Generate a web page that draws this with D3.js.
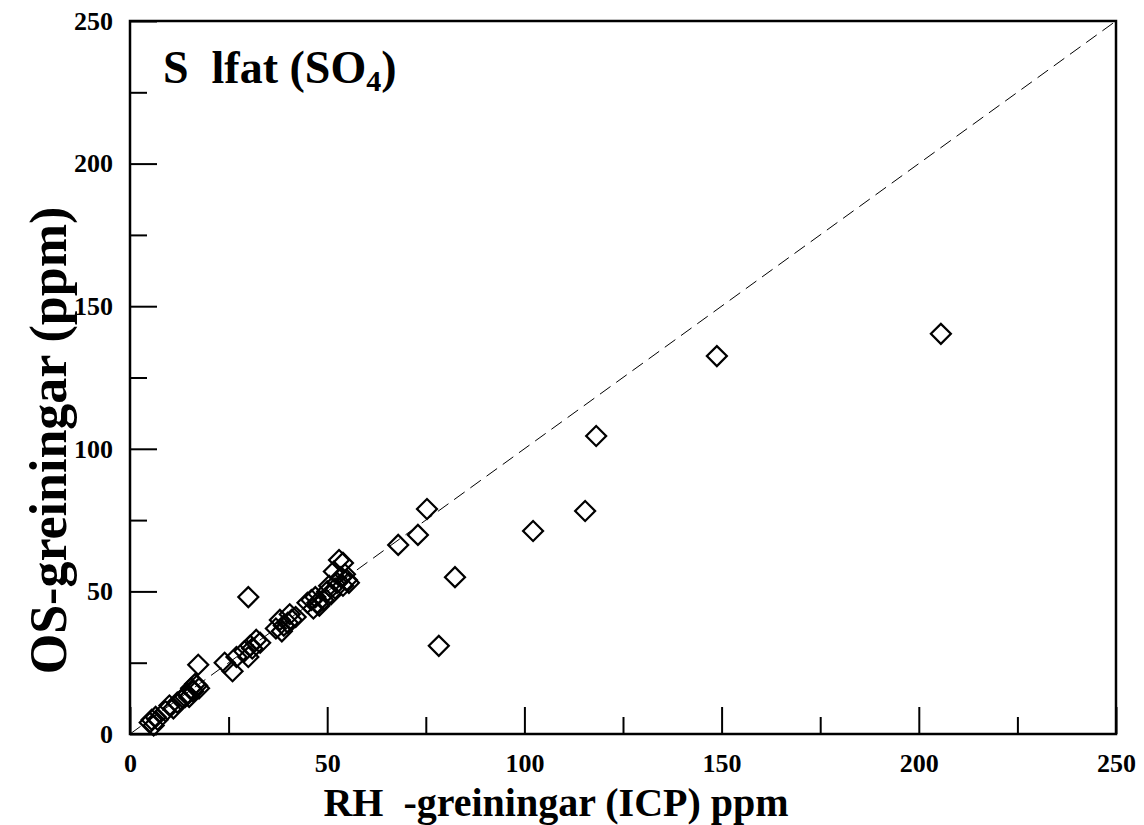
<!DOCTYPE html>
<html>
<head>
<meta charset="utf-8">
<script src="https://cdn.jsdelivr.net/npm/d3@7"></script>
<style>
  body { margin: 0; background: #fff; }
  text { font-family: "Liberation Serif", "Times New Roman", serif; font-weight: bold; }
</style>
</head>
<body>
<script>
// RH (ICP) values vs OS values, ppm
const rhValues = [
  5, 6, 6.5, 7, 5.5, 9, 10, 11, 12,
  13, 14, 14.5, 15, 15.5, 16, 17, 17.5, 16.5, 17.3,
  24, 26, 27, 29, 30, 30.5, 31, 32, 33, 30,
  37, 38, 38.5, 39, 40, 40.5, 41, 42,
  45, 46, 46.5, 47, 47.5, 48, 49,
  50, 50.5, 51, 52, 52.5, 53, 54, 51.7, 53.5, 54, 55, 55.5, 54.5,
  68, 73, 75.3, 78.3, 82.4, 102.2, 115.4, 118.2, 148.8, 205.6
];
const osValues = [
  4, 3, 6, 5, 5, 8, 10, 9, 11,
  12, 13, 14, 13, 16, 15, 17, 16, 17.5, 24.3,
  25, 22, 27, 29, 27, 31, 30, 33, 32, 48,
  37, 40, 36, 38, 39, 42, 40, 41,
  46, 47, 44, 48, 46, 45, 47,
  50, 52, 49, 51, 53, 61, 60, 57, 55, 52, 54, 53, 56,
  66.3, 69.8, 78.9, 30.9, 55, 71.2, 78.2, 104.5, 132.5, 140.3
];
const majorTicks = [0, 50, 100, 150, 200, 250];
const minorTicks = [25, 75, 125, 175, 225];
const refLine = [[0, 0], [250, 250]];

const svgWidth = 1144;
const svgHeight = 825;
const margin = {left: 130, top: 21, right: 28, bottom: 91};
const width = svgWidth - margin.left - margin.right;
const height = svgHeight - margin.top - margin.bottom;

const svg = d3.select('body').append('svg')
    .attr('width', svgWidth)
    .attr('height', svgHeight)
    .append('g')
    .attr('transform', `translate(${margin.left}, ${margin.top})`);

const xScale = d3.scaleLinear().domain([0, 250]).range([0, width]);
const yScale = d3.scaleLinear().domain([0, 250]).range([height, 0]);

// 1:1 line
svg.append('path')
    .datum(refLine)
    .attr('d', d3.line().x(d => xScale(d[0])).y(d => yScale(d[1])))
    .attr('fill', 'none')
    .attr('stroke', '#000')
    .attr('stroke-width', 1)
    .attr('stroke-dasharray', '13,7');

// axes: major ticks with labels, minor ticks without
function styleAxis(g) {
    g.select('.domain').remove();
    g.selectAll('.tick line').attr('stroke', '#000').attr('stroke-width', 2);
    g.selectAll('.tick text').attr('font-size', 26).attr('fill', '#000')
        .attr('font-family', '"Liberation Serif", serif');
}

svg.append('g')
    .attr('transform', `translate(0, ${height})`)
    .call(d3.axisBottom(xScale).tickValues(majorTicks).tickSize(-27).tickPadding(20).tickFormat(d3.format('d')))
    .call(styleAxis);
svg.append('g')
    .attr('transform', `translate(0, ${height})`)
    .call(d3.axisBottom(xScale).tickValues(minorTicks).tickSize(-17).tickFormat(''))
    .call(styleAxis);
svg.append('g')
    .call(d3.axisLeft(yScale).tickValues(majorTicks).tickSize(-27).tickPadding(17).tickFormat(d3.format('d')))
    .call(styleAxis);
svg.append('g')
    .call(d3.axisLeft(yScale).tickValues(minorTicks).tickSize(-17).tickFormat(''))
    .call(styleAxis);

// frame
svg.append('rect')
    .attr('x', 0).attr('y', 0)
    .attr('width', width).attr('height', height)
    .attr('fill', 'none')
    .attr('stroke', '#000')
    .attr('stroke-width', 2.5);

// diamonds
const diamond = d3.symbol().type(d3.symbolSquare).size(200);
svg.selectAll('.pt')
    .data(rhValues.map((v, i) => [v, osValues[i]]))
    .enter()
    .append('path')
    .attr('class', 'pt')
    .attr('d', diamond)
    .attr('transform', d => `translate(${xScale(d[0])}, ${yScale(d[1])}) rotate(45)`)
    .attr('fill', 'none')
    .attr('stroke', '#000')
    .attr('stroke-width', 2.2);

// panel title
const title = svg.append('text')
    .attr('x', 33)
    .attr('y', 62)
    .attr('font-size', 46)
    .style('white-space', 'pre');
title.append('tspan').text('S  lfat (SO');
title.append('tspan').text('4').attr('font-size', 30).attr('dy', 8);
title.append('tspan').text(')').attr('dy', -8);

// axis titles
svg.append('text')
    .text('RH  -greiningar (ICP) ppm')
    .attr('x', width / 2 - 67)
    .attr('y', height + 82)
    .attr('text-anchor', 'middle')
    .attr('font-size', 40)
    .style('white-space', 'pre');

svg.append('text')
    .text('OS-greiningar (ppm)')
    .attr('transform', `translate(-64, ${height / 2 + 63}) rotate(-90)`)
    .attr('text-anchor', 'middle')
    .attr('font-size', 52);
</script>
</body>
</html>
